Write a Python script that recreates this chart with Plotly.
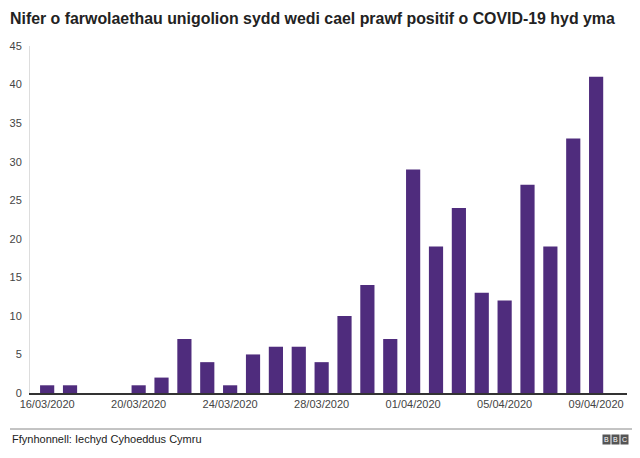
import plotly.graph_objects as go

dates = ["16/03/2020","17/03/2020","18/03/2020","19/03/2020","20/03/2020","21/03/2020",
         "22/03/2020","23/03/2020","24/03/2020","25/03/2020","26/03/2020","27/03/2020",
         "28/03/2020","29/03/2020","30/03/2020","31/03/2020","01/04/2020","02/04/2020",
         "03/04/2020","04/04/2020","05/04/2020","06/04/2020","07/04/2020","08/04/2020",
         "09/04/2020"]
deaths = [1, 1, 0, 0, 1, 2, 7, 4, 1, 5, 6, 6, 4, 10, 14, 7, 29, 19, 24, 13, 12, 27, 19, 33, 41]
y_ticks = [0, 5, 10, 15, 20, 25, 30, 35, 40, 45]

idx = list(range(len(dates)))
tick_idx = idx[::4]
tick_text = [dates[i] for i in tick_idx]

W, H = 632, 450
L, R, T, B = 22, 13, 38, 65
PW, PH = W - L - R, H - T - B

fig = go.Figure(go.Bar(
    x=idx, y=deaths, marker=dict(color="#4f2c7d", line=dict(width=0)),
    hovertext=dates,
))

fig.update_layout(
    width=W, height=H,
    margin=dict(l=L, r=R, t=T, b=B, autoexpand=False),
    paper_bgcolor="white", plot_bgcolor="white",
    bargap=0.38,
    showlegend=False,
    font=dict(family="Liberation Sans, Arial, sans-serif", color="#444"),
    title=dict(text="<b>Nifer o farwolaethau unigolion sydd wedi cael prawf positif o COVID-19 hyd yma</b>",
               x=2 / W, xanchor="left", y=1 - 10 / H, yanchor="middle",
               font=dict(size=15.9, color="#222")),
)
fig.update_xaxes(
    range=[-0.75, 25.35], tickvals=tick_idx, ticktext=tick_text, automargin=False,
    showgrid=False, showline=True, linecolor="#333", linewidth=1.5,
    ticks="", tickfont=dict(size=11, color="#444"), zeroline=False,
)
fig.update_yaxes(
    range=[0, 45], tickvals=y_ticks, showgrid=False, zeroline=False, automargin=False,
    showline=True, linecolor="#dddddd", linewidth=1,
    ticks="", ticklabelstandoff=5, tickfont=dict(size=11, color="#444"),
)

fig.add_shape(type="line", xref="paper", yref="paper",
              x0=-20 / PW, x1=(W - L - 2) / PW, y0=-36 / PH, y1=-36 / PH,
              line=dict(color="#888", width=1))
fig.add_annotation(text="Ffynhonnell: Iechyd Cyhoeddus Cymru", xref="paper", yref="paper",
                   x=-20 / PW, y=-46 / PH, xanchor="left", yanchor="middle", showarrow=False,
                   font=dict(size=11, color="#222"))
for i, letter in enumerate(["B", "B", "C"]):
    fig.add_annotation(text=letter, xref="paper", yref="paper",
                       x=(576 + i * 9) / PW, y=-46 / PH, xanchor="center", yanchor="middle",
                       showarrow=False, bgcolor="#555", borderpad=0, width=7, height=9,
                       font=dict(size=7, color="white", family="Liberation Sans"))

fig.write_html("out.html")
